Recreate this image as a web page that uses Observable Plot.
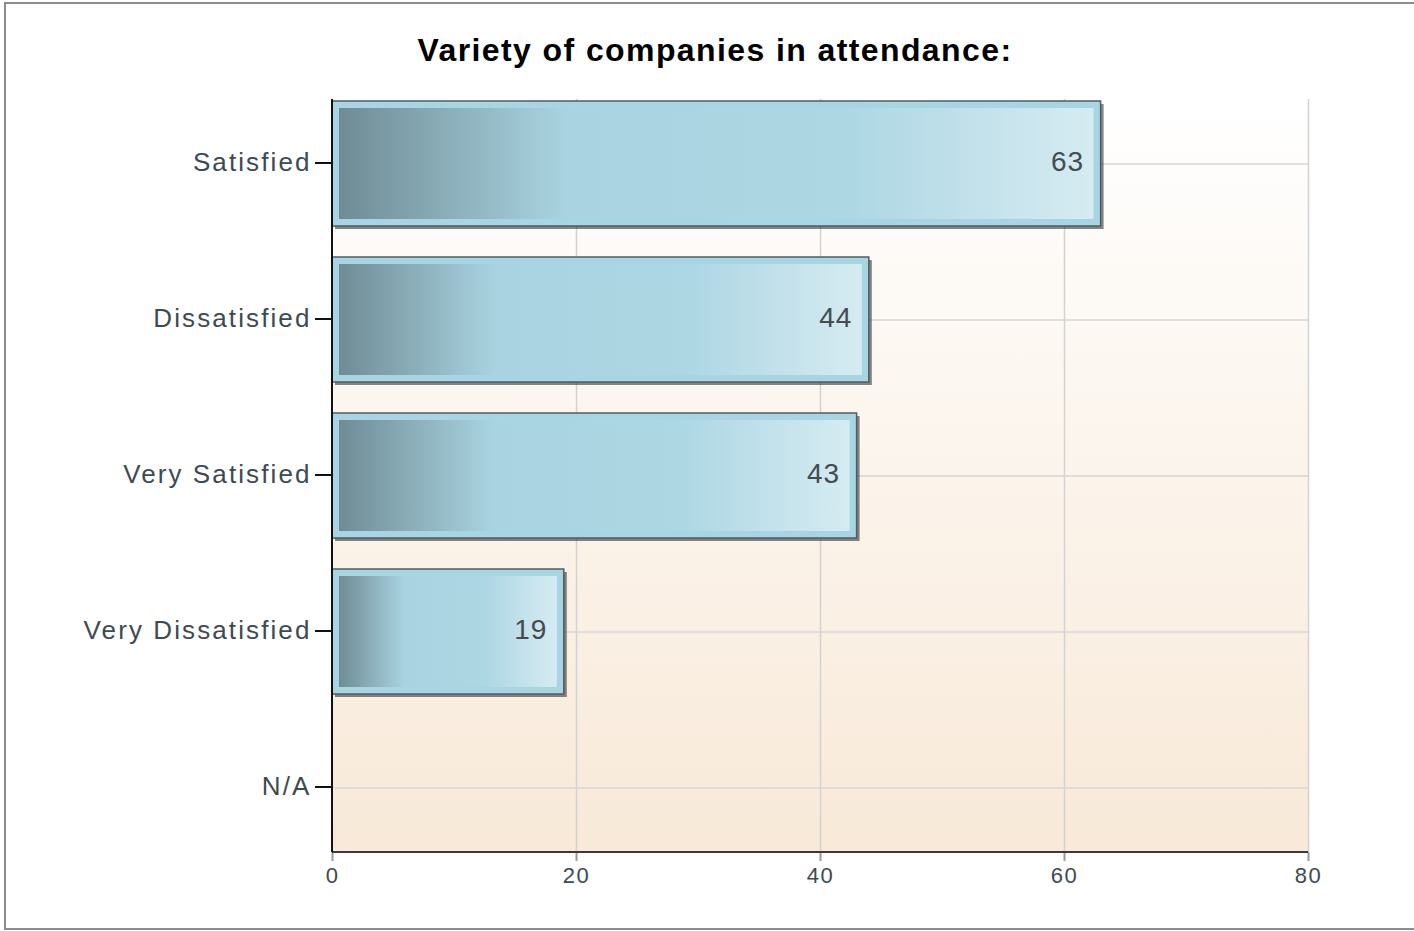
<!DOCTYPE html>
<html>
<head>
<meta charset="utf-8">
<script src="https://cdn.jsdelivr.net/npm/d3@7"></script>
<script src="https://cdn.jsdelivr.net/npm/@observablehq/plot@0.6"></script>
<style>
  html, body { margin: 0; padding: 0; background: #fff; }
  body { width: 1414px; height: 931px; position: relative; overflow: hidden; font-family: "Liberation Sans", Arial, sans-serif; }
  #frame { position: absolute; left: 4px; top: 2px; width: 1420px; height: 928px; border: 2px solid #8c8c8c; box-sizing: border-box; pointer-events: none; z-index: 5; }
  #title { position: absolute; left: 0; top: 0; width: 1430px; height: 80px; text-align: center; font-weight: bold; font-size: 32px; letter-spacing: 1.4px; color: #000; line-height: 1; padding-top: 34px; box-sizing: border-box; }
  #chart { position: absolute; left: 0; top: 80px; }
  #chart g[aria-label="y-axis tick label"] text { letter-spacing: 2.1px; }
  #chart g[aria-label="x-axis tick label"] text { letter-spacing: 1.5px; }
  #chart g[aria-label="text"] text { letter-spacing: 1px; }
</style>
</head>
<body>
<div id="frame"></div>
<div id="title">Variety of companies in attendance:</div>
<div id="chart"></div>
<script>
const categories = ["Satisfied", "Dissatisfied", "Very Satisfied", "Very Dissatisfied", "N/A"];
const values = [63, 44, 43, 19, 0];
const xTicks = [0, 20, 40, 60, 80];

const data = categories.map((c, i) => ({category: c, value: values[i]}));
const barData = data.filter(d => d.value > 0);

const defs = () => {
  const svgNS = "http://www.w3.org/2000/svg";
  const d = document.createElementNS(svgNS, "defs");
  d.innerHTML = `
    <linearGradient id="bgGrad" x1="0" y1="0" x2="0" y2="1">
      <stop offset="0" stop-color="#ffffff"/>
      <stop offset="1" stop-color="#f8e9d8"/>
    </linearGradient>
    <linearGradient id="barGrad" x1="0" y1="0" x2="1" y2="0">
      <stop offset="0" stop-color="#6f8c96"/>
      <stop offset="0.3" stop-color="#a9d3e0"/>
      <stop offset="0.68" stop-color="#aed7e4"/>
      <stop offset="1" stop-color="#d6ebf2"/>
    </linearGradient>
    <filter id="shadow" x="-5%" y="-10%" width="115%" height="130%">
      <feGaussianBlur stdDeviation="1.5"/>
    </filter>`;
  return d;
};

const axisLines = (index, scales, values, dims) => {
  const svgNS = "http://www.w3.org/2000/svg";
  const g = document.createElementNS(svgNS, "g");
  const yb = dims.height - dims.marginBottom;
  const x0 = scales.x(0), x1 = scales.x(80);
  const bottom = document.createElementNS(svgNS, "line");
  bottom.setAttribute("x1", x0); bottom.setAttribute("x2", x1);
  bottom.setAttribute("y1", yb); bottom.setAttribute("y2", yb);
  bottom.setAttribute("stroke", "#3a3a3a"); bottom.setAttribute("stroke-width", 2);
  const left = document.createElementNS(svgNS, "line");
  left.setAttribute("x1", x0); left.setAttribute("x2", x0);
  left.setAttribute("y1", dims.marginTop); left.setAttribute("y2", yb);
  left.setAttribute("stroke", "#111"); left.setAttribute("stroke-width", 2);
  g.append(bottom, left);
  return g;
};

const chart = Plot.plot({
  width: 1414,
  height: 851,
  marginTop: 19,
  marginBottom: 79,
  marginLeft: 332,
  marginRight: 106,
  style: {fontFamily: "'Liberation Sans', Arial, sans-serif", background: "transparent", overflow: "visible"},
  x: {domain: [0, 80], label: null},
  y: {domain: categories, paddingInner: 0.2, paddingOuter: 0, label: null},
  marks: [
    defs,
    Plot.frame({fill: "url(#bgGrad)", stroke: null}),
    Plot.gridX(xTicks.slice(1), {stroke: "#d2d2d2", strokeOpacity: 1, strokeWidth: 1.5}),
    Plot.gridY({stroke: "#d6d6d6", strokeOpacity: 1, strokeWidth: 1.5}),
    Plot.axisX({ticks: xTicks, tickSize: 9, tickPadding: 6, stroke: "#9a9a9a", strokeWidth: 2, fill: "#3d4a52", fontSize: 22, label: null}),
    Plot.axisY({tickSize: 17, tickPadding: 4, stroke: "#111", strokeWidth: 2, fill: "#3d4a52", fontSize: 26, label: null, dy: -1}),
    Plot.barX(barData, {x: "value", y: "category", fill: "#333", fillOpacity: 0.6, dx: 3, dy: 3, style: "filter:url(#shadow)"}),
    Plot.barX(barData, {x: "value", y: "category", fill: "#a8d5e3", stroke: "#4e5d63", strokeWidth: 1.5}),
    Plot.barX(barData, {x: "value", y: "category", fill: "url(#barGrad)", insetTop: 7, insetBottom: 7, insetLeft: 7, insetRight: 7}),
    axisLines,
    Plot.text(barData, {x: "value", y: "category", text: d => String(d.value), textAnchor: "end", dx: -17, dy: -2, fontSize: 28, fill: "#444c50"})
  ]
});
document.getElementById("chart").append(chart);
</script>
</body>
</html>
